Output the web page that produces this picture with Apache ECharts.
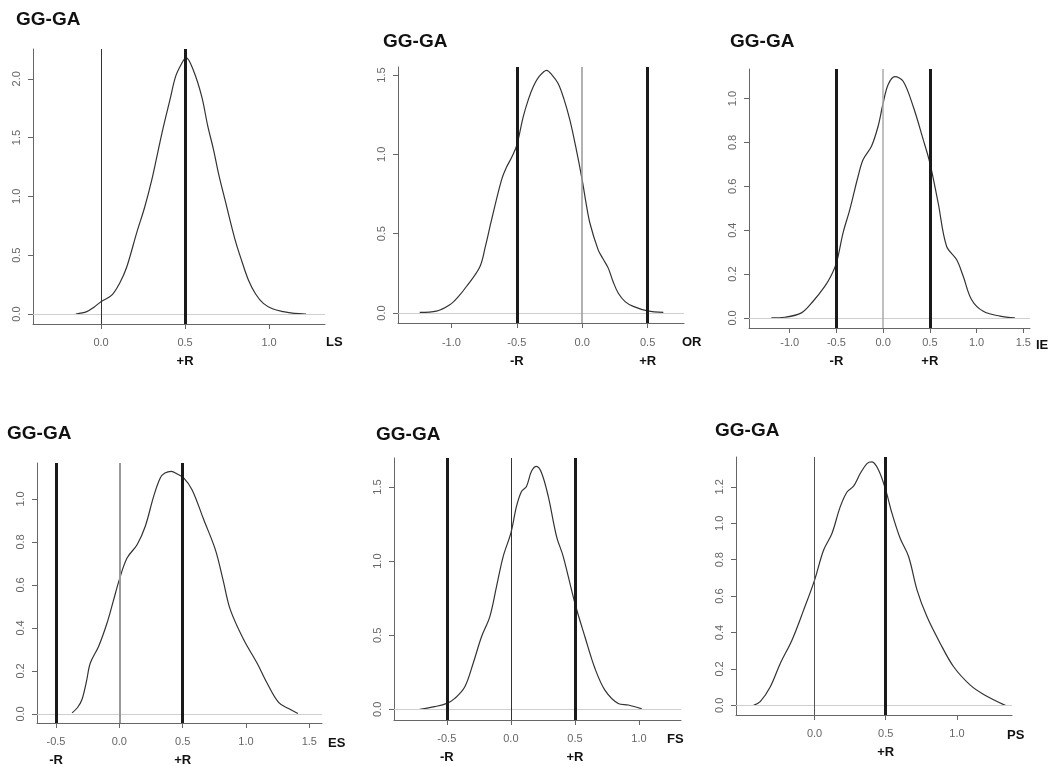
<!DOCTYPE html>
<html><head><meta charset="utf-8">
<script src="https://cdn.jsdelivr.net/npm/echarts@6/dist/echarts.min.js"></script>
<style>html,body{margin:0;padding:0;background:#fff}#c{width:1055px;height:767px}</style>
</head><body><div id="c"></div>
<script>
// ---------- DATA ----------
const TITLE = 'GG-GA';
const VARIABLES = ['LS', 'OR', 'IE', 'ES', 'FS', 'PS'];

const LS_DENSITY = [[-0.15,0.0],[-0.085,0.02],[-0.04,0.06],[0.0,0.105],[0.064,0.16],[0.11,0.26],[0.153,0.40],[0.212,0.69],[0.26,0.91],[0.302,1.14],[0.34,1.39],[0.371,1.59],[0.41,1.82],[0.444,2.02],[0.48,2.13],[0.506,2.18],[0.55,2.07],[0.599,1.85],[0.635,1.60],[0.669,1.40],[0.70,1.19],[0.738,0.97],[0.798,0.63],[0.84,0.44],[0.877,0.29],[0.92,0.17],[0.966,0.09],[1.02,0.045],[1.085,0.02],[1.15,0.005],[1.22,0.0]];
const OR_DENSITY = [[-1.242,0.004],[-1.114,0.012],[-1.012,0.052],[-0.95,0.10],[-0.885,0.167],[-0.783,0.29],[-0.74,0.42],[-0.693,0.587],[-0.617,0.838],[-0.578,0.92],[-0.54,0.98],[-0.5,1.058],[-0.451,1.237],[-0.41,1.35],[-0.375,1.425],[-0.33,1.49],[-0.272,1.53],[-0.23,1.50],[-0.184,1.447],[-0.14,1.35],[-0.094,1.216],[-0.05,1.05],[0.0,0.838],[0.03,0.69],[0.059,0.566],[0.122,0.398],[0.16,0.34],[0.199,0.283],[0.235,0.20],[0.275,0.126],[0.33,0.07],[0.39,0.042],[0.5,0.013],[0.62,0.004]];
const IE_DENSITY = [[-1.196,0.0],[-1.054,0.003],[-0.875,0.023],[-0.75,0.076],[-0.625,0.144],[-0.56,0.19],[-0.5,0.251],[-0.429,0.388],[-0.357,0.494],[-0.268,0.646],[-0.214,0.722],[-0.125,0.783],[-0.054,0.874],[0.0,0.98],[0.054,1.064],[0.125,1.10],[0.214,1.079],[0.321,0.965],[0.429,0.813],[0.5,0.707],[0.589,0.524],[0.679,0.327],[0.786,0.266],[0.857,0.19],[0.947,0.083],[1.072,0.03],[1.25,0.008],[1.41,0.0]];
const ES_DENSITY = [[-0.373,0.005],[-0.33,0.03],[-0.295,0.067],[-0.26,0.15],[-0.229,0.237],[-0.163,0.315],[-0.097,0.423],[-0.05,0.52],[0.0,0.625],[0.061,0.725],[0.14,0.787],[0.205,0.873],[0.271,1.012],[0.324,1.098],[0.36,1.12],[0.41,1.128],[0.46,1.115],[0.508,1.098],[0.574,1.043],[0.666,0.904],[0.758,0.764],[0.82,0.62],[0.876,0.485],[0.981,0.346],[1.087,0.237],[1.166,0.144],[1.257,0.054],[1.336,0.025],[1.41,0.002]];
const FS_DENSITY = [[-0.711,0.0],[-0.594,0.018],[-0.5,0.04],[-0.4375,0.074],[-0.359,0.153],[-0.294,0.311],[-0.229,0.49],[-0.164,0.626],[-0.112,0.828],[-0.06,1.031],[0.0,1.189],[0.044,1.369],[0.083,1.47],[0.122,1.504],[0.161,1.606],[0.2,1.639],[0.24,1.595],[0.292,1.437],[0.357,1.166],[0.409,1.031],[0.5,0.716],[0.578,0.49],[0.656,0.277],[0.734,0.13],[0.838,0.04],[0.917,0.029],[1.021,0.003]];
const PS_DENSITY = [[-0.429,0.0],[-0.382,0.02],[-0.311,0.102],[-0.241,0.23],[-0.159,0.358],[-0.077,0.523],[0.0,0.688],[0.063,0.852],[0.122,0.944],[0.18,1.09],[0.228,1.172],[0.274,1.204],[0.321,1.273],[0.368,1.328],[0.403,1.337],[0.45,1.291],[0.5,1.182],[0.544,1.054],[0.602,0.916],[0.661,0.816],[0.72,0.633],[0.79,0.486],[0.883,0.34],[0.977,0.212],[1.094,0.111],[1.188,0.06],[1.34,0.0]];
const DENSITIES = [LS_DENSITY, OR_DENSITY, IE_DENSITY, ES_DENSITY, FS_DENSITY, PS_DENSITY];

const X_TICKS = [[0,0.5,1],[-1,-0.5,0,0.5],[-1,-0.5,0,0.5,1,1.5],[-0.5,0,0.5,1,1.5],[-0.5,0,0.5,1],[0,0.5,1]];
const Y_TICKS = [[0,0.5,1,1.5,2],[0,0.5,1,1.5],[0,0.2,0.4,0.6,0.8,1.0],[0,0.2,0.4,0.6,0.8,1.0],[0,0.5,1,1.5],[0,0.2,0.4,0.6,0.8,1.0,1.2]];
const R_LINES = [[0.5],[-0.5,0.5],[-0.5,0.5],[-0.5,0.5],[-0.5,0.5],[0.5]];
const R_LABELS = {'-0.5':'-R','0.5':'+R'};
const ZERO_LINE = 0;

// ---------- LAYOUT / STYLE ----------
const GRIDS = [
  {left:33, top:49, width:292, height:275, xr:[-0.405,1.333], yr:[-0.085,2.253], title:[16,10], nameGap:1, nameDy:18, xm:10, zero:{color:'#333',width:1}},
  {left:398, top:67, width:286, height:256, xr:[-1.408,0.778], yr:[-0.063,1.551], title:[383,32], nameGap:-2, nameDy:19, xm:11, zero:{color:'#999',width:1.5}},
  {left:749, top:69, width:281, height:259, xr:[-1.436,1.572], yr:[-0.046,1.135], title:[730,32], nameGap:6, nameDy:17, xm:6, zero:{color:'#aaa',width:1.5}},
  {left:37, top:463, width:285, height:260, xr:[-0.65,1.6], yr:[-0.042,1.167], title:[7,424], nameGap:6, nameDy:20, xm:10, zero:{color:'#999',width:2}},
  {left:394, top:458, width:287, height:262, xr:[-0.912,1.328], yr:[-0.072,1.696], title:[376,425], nameGap:-14, nameDy:19, xm:10, zero:{color:'#333',width:1}},
  {left:736, top:457, width:276, height:258, xr:[-0.552,1.387], yr:[-0.053,1.364], title:[715,421], nameGap:-5, nameDy:20, xm:10, zero:{color:'#555',width:1}}
];
const FONT = 'Liberation Sans, Arial, Helvetica, sans-serif';
const AXIS_COLOR = '#666';

const chart = echarts.init(document.getElementById('c'), null, {renderer:'canvas'});
const option = {animation:false, backgroundColor:'#fff', title:[], grid:[], xAxis:[], yAxis:[], series:[]};

GRIDS.forEach((g, i) => {
  option.title.push({text:TITLE, left:g.title[0], top:g.title[1], padding:0,
    textStyle:{fontFamily:FONT, fontSize:19, fontWeight:'bold', color:'#111'}});
  option.grid.push({left:g.left, top:g.top, width:g.width, height:g.height, containLabel:false, outerBoundsMode:'none'});
  option.xAxis.push({
    type:'value', gridIndex:i, min:g.xr[0], max:g.xr[1],
    name:VARIABLES[i], nameLocation:'end', nameGap:g.nameGap,
    nameTextStyle:{fontFamily:FONT, fontSize:13, fontWeight:'bold', color:'#111', align:'left', verticalAlign:'top', lineHeight:14, padding:[g.nameDy-7,0,0,0]},
    axisLine:{show:true, onZero:false, lineStyle:{color:AXIS_COLOR, width:1}},
    axisTick:{show:true, length:5, customValues:X_TICKS[i], lineStyle:{color:AXIS_COLOR}},
    splitLine:{show:false},
    axisLabel:{customValues:X_TICKS[i], margin:g.xm, showMinLabel:true, showMaxLabel:true,
      formatter:(v) => {
        const key = String(Math.round(v*10)/10);
        const r = (R_LINES[i].indexOf(Number(key)) >= 0) ? R_LABELS[key] : null;
        const t = '{n|' + Number(v).toFixed(1) + '}';
        return r ? t + '\n{r|' + r + '}' : t;
      },
      rich:{
        n:{fontFamily:FONT, fontSize:11, color:'#666', lineHeight:18},
        r:{fontFamily:FONT, fontSize:13, fontWeight:'bold', color:'#111', lineHeight:18}
      }
    }
  });
  option.yAxis.push({
    type:'value', gridIndex:i, min:g.yr[0], max:g.yr[1],
    axisLine:{show:true, onZero:false, lineStyle:{color:AXIS_COLOR, width:1}},
    axisTick:{show:true, length:5, customValues:Y_TICKS[i], lineStyle:{color:AXIS_COLOR}},
    splitLine:{show:false},
    axisLabel:{customValues:Y_TICKS[i], margin:11, rotate:90, showMinLabel:true, showMaxLabel:true,
      fontFamily:FONT, fontSize:11, color:'#666', formatter:(v) => Number(v).toFixed(1)}
  });
  const ml = [{yAxis:ZERO_LINE, lineStyle:{color:'#cfcfcf', width:1, type:'solid'}},
              {xAxis:ZERO_LINE, lineStyle:{color:g.zero.color, width:g.zero.width, type:'solid'}}];
  R_LINES[i].forEach(r => ml.push({xAxis:r, lineStyle:{color:'#1a1a1a', width:3, type:'solid'}}));
  option.series.push({
    type:'line', xAxisIndex:i, yAxisIndex:i, data:DENSITIES[i],
    showSymbol:false, symbol:'none', smooth:0.35, silent:true,
    lineStyle:{color:'#333', width:1.2},
    markLine:{silent:true, symbol:['none','none'], label:{show:false}, animation:false, data:ml}
  });
});
chart.setOption(option);
</script>
</body></html>
